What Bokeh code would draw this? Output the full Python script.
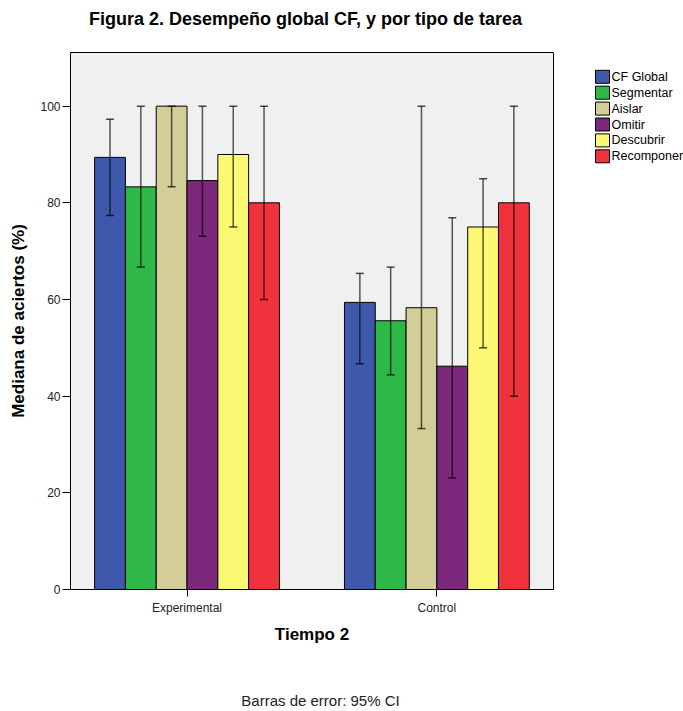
from bokeh.plotting import figure
from bokeh.models import ColumnDataSource, Whisker, TeeHead, FixedTicker, Range1d
from bokeh.layouts import row, column
from bokeh.core.properties import value
from bokeh.embed import file_html
from bokeh.resources import INLINE

# ---- data ----
groups = ["Experimental", "Control"]
series = ["CF Global", "Segmentar", "Aislar", "Omitir", "Descubrir", "Recomponer"]
colors = ["#3E58AC", "#2EB848", "#D3CE97", "#7B287D", "#FBF873", "#F0323C"]

exp_median = [89.4, 83.3, 100.0, 84.6, 90.0, 80.0]
exp_lower = [77.4, 66.7, 83.3, 73.1, 75.0, 60.0]
exp_upper = [97.3, 100.0, 100.0, 100.0, 100.0, 100.0]

ctl_median = [59.4, 55.6, 58.3, 46.2, 75.0, 80.0]
ctl_lower = [46.7, 44.4, 33.3, 23.1, 50.0, 40.0]
ctl_upper = [65.4, 66.7, 100.0, 76.9, 85.0, 100.0]

y_ticks = [0, 20, 40, 60, 80, 100]

title_text = "Figura 2. Desempeño global CF, y por tipo de tarea"
y_label = "Mediana de aciertos (%)"
x_label = "Tiempo 2"
footnote = "Barras de error: 95% CI"

FONT = "Liberation Sans"
W, H = 683, 711
TITLE_H, FOOT_H = 36, 26
MAIN_W = 560
MAIN_H = H - TITLE_H - FOOT_H
FRAME_TOP, FRAME_BOTTOM = 52, 589          # page pixels of the plot frame
BORDER_TOP = FRAME_TOP - TITLE_H
BORDER_BOTTOM = (H - FOOT_H) - FRAME_BOTTOM
FRAME_H = FRAME_BOTTOM - FRAME_TOP


def blank(width, height):
    f = figure(width=width, height=height, output_backend="svg",
               toolbar_location=None, x_range=Range1d(0, width),
               y_range=Range1d(height, 0), min_border=0,
               outline_line_color=None, background_fill_color="white",
               border_fill_color="white")
    f.axis.visible = False
    f.grid.visible = False
    return f


# ---- title strip ----
tf = blank(W, TITLE_H)
tf.text(x=[305], y=[18], text=[title_text], text_font=value(FONT),
        text_font_style="bold", text_font_size="18px", text_align="center",
        text_baseline="middle", text_color="black")

# ---- main chart ----
p = figure(width=MAIN_W, height=MAIN_H, output_backend="svg", toolbar_location=None,
           x_range=Range1d(0.5336, 2.4668), y_range=Range1d(0, 111.1),
           min_border_left=70, min_border_right=7, min_border_top=BORDER_TOP,
           min_border_bottom=BORDER_BOTTOM, background_fill_color="#F0F0F0",
           border_fill_color="white", outline_line_color="black",
           outline_line_width=1)
p.grid.visible = False

bar_w = 0.1233
group_x = [i + 1 for i in range(len(groups))]
medians = [exp_median, ctl_median]
lowers = [exp_lower, ctl_lower]
uppers = [exp_upper, ctl_upper]

for j, (name, col) in enumerate(zip(series, colors)):
    off = (j - (len(series) - 1) / 2) * bar_w
    xs = [g + off for g in group_x]
    src = ColumnDataSource(dict(
        x=xs,
        top=[medians[k][j] for k in range(len(groups))],
        lo=[lowers[k][j] for k in range(len(groups))],
        hi=[uppers[k][j] for k in range(len(groups))],
    ))
    p.vbar(x="x", top="top", width=bar_w, bottom=0, source=src,
           fill_color=col, line_color="black", line_width=1)
    w = Whisker(base="x", upper="hi", lower="lo", source=src, level="overlay",
                line_color="black", line_alpha=0.65, line_width=1.5,
                upper_head=TeeHead(size=8, line_color="black", line_alpha=0.7, line_width=1.5),
                lower_head=TeeHead(size=8, line_color="black", line_alpha=0.7, line_width=1.5))
    p.add_layout(w)

# axes
p.yaxis.ticker = FixedTicker(ticks=y_ticks)
p.yaxis.axis_label = y_label
p.yaxis.axis_label_text_font = FONT
p.yaxis.axis_label_text_font_style = "bold"
p.yaxis.axis_label_text_font_size = "17px"
p.yaxis.axis_label_text_color = "black"
p.yaxis.axis_label_standoff = 9
p.yaxis.major_label_text_font = FONT
p.yaxis.major_label_text_font_size = "12px"
p.yaxis.major_label_text_color = "#222222"
p.yaxis.major_label_standoff = 2
p.yaxis.major_tick_out = 8
p.yaxis.major_tick_in = 0
p.yaxis.minor_tick_out = 0
p.yaxis.minor_tick_in = 0
p.yaxis.axis_line_color = "black"

p.xaxis.ticker = FixedTicker(ticks=group_x)
p.xaxis.major_label_overrides = {g: lab for g, lab in zip(group_x, groups)}
p.xaxis.axis_label = x_label
p.xaxis.axis_label_text_font = FONT
p.xaxis.axis_label_text_font_style = "bold"
p.xaxis.axis_label_text_font_size = "17px"
p.xaxis.axis_label_text_color = "black"
p.xaxis.axis_label_standoff = 7
p.xaxis.major_label_text_font = FONT
p.xaxis.major_label_text_font_size = "12px"
p.xaxis.major_label_text_color = "#222222"
p.xaxis.major_label_standoff = 4
p.xaxis.major_tick_out = 7
p.xaxis.major_tick_in = 0
p.xaxis.minor_tick_out = 0
p.xaxis.minor_tick_in = 0

# ---- legend panel (swatches + labels, one row per series) ----
# its frame shares the main frame's vertical extent (0 = top of the frame)
LG_W = W - MAIN_W
lg = figure(width=LG_W, height=MAIN_H, output_backend="svg",
            toolbar_location=None, x_range=Range1d(0, LG_W),
            y_range=Range1d(FRAME_H, 0), min_border_left=0, min_border_right=0,
            min_border_top=BORDER_TOP, min_border_bottom=BORDER_BOTTOM,
            outline_line_color=None, background_fill_color="white",
            border_fill_color="white")
lg.axis.visible = False
lg.grid.visible = False
row_pitch = 15.9
first_row = 24.3
leg_src = ColumnDataSource(dict(
    y=[first_row + i * row_pitch for i in range(len(series))],
    color=colors,
    label=series,
))
lg.rect(x=42, y="y", width=14, height=13, fill_color="color",
        line_color="black", line_width=1, source=leg_src)
lg.text(x=51, y="y", text="label", text_font=value(FONT),
        text_font_size="12.5px", text_align="left", text_baseline="middle",
        text_color="black", source=leg_src)

# ---- footnote strip ----
ff = blank(W, FOOT_H)
ff.text(x=[320], y=[15], text=[footnote], text_font=value(FONT),
        text_font_size="15px", text_align="center", text_baseline="middle",
        text_color="#222222")

layout = column(tf, row(p, lg), ff)
open("out.html", "w").write(file_html(layout, INLINE))
